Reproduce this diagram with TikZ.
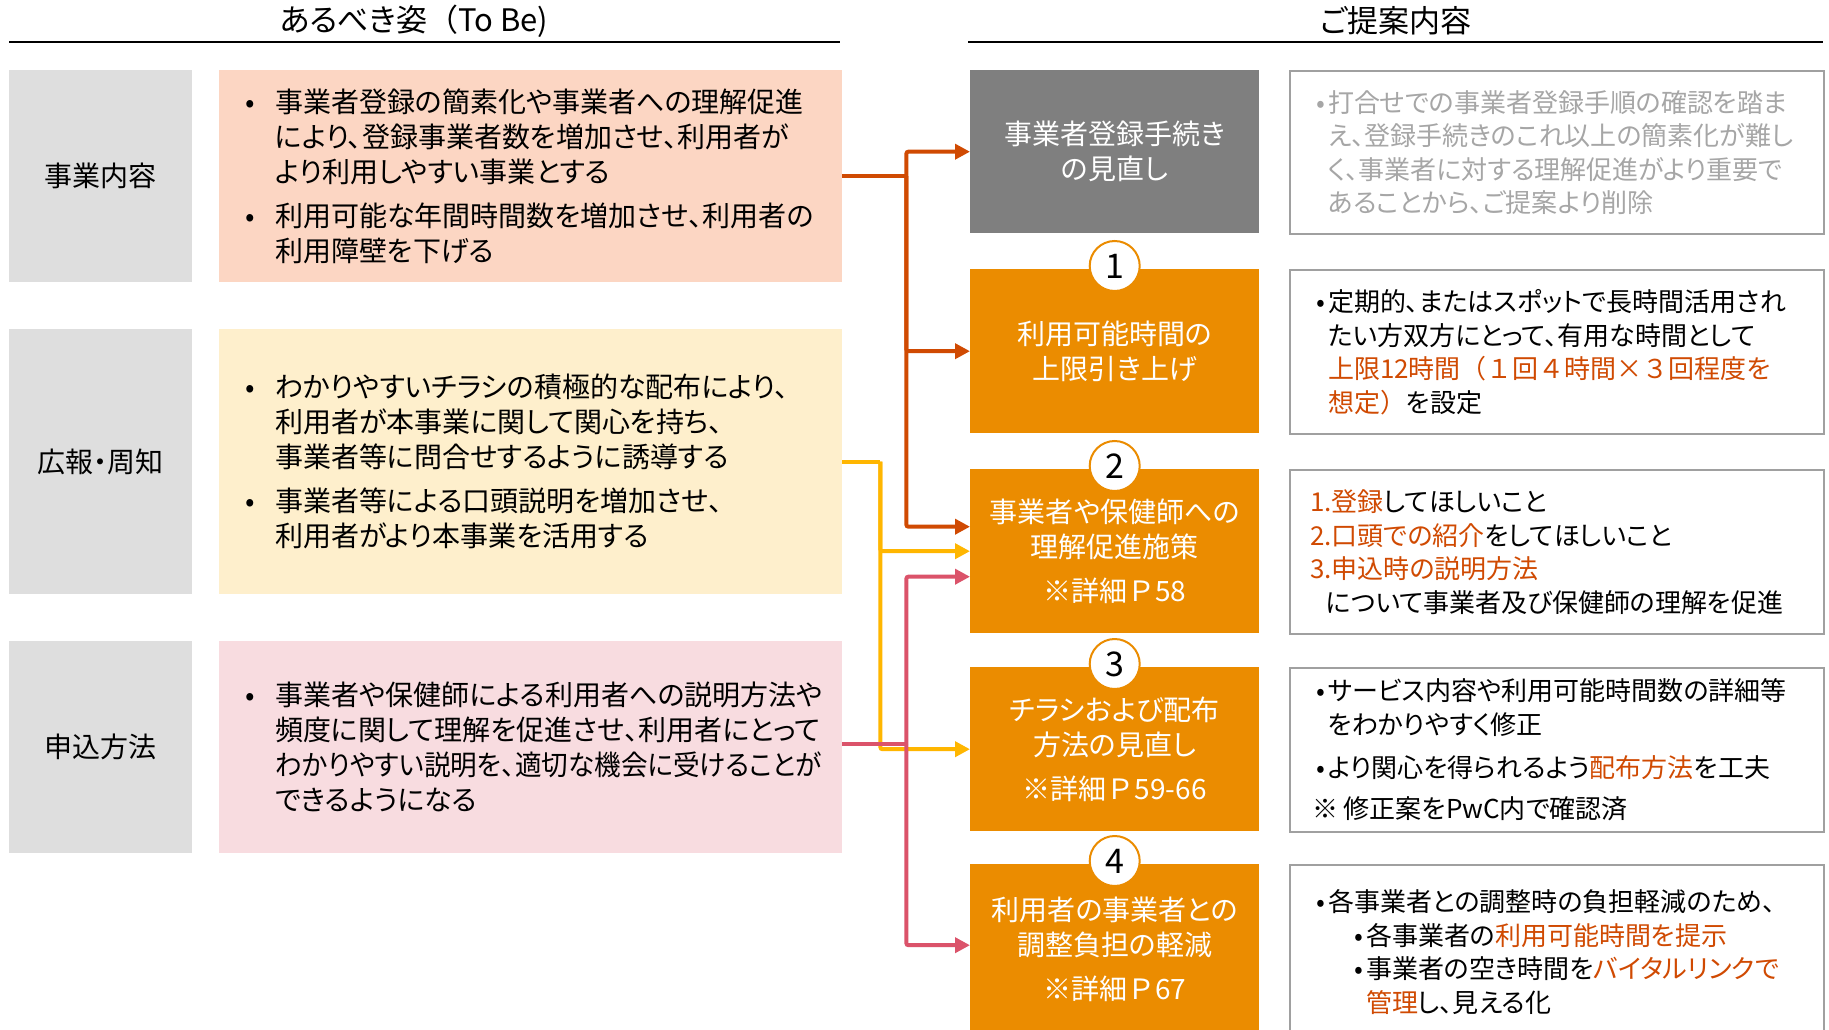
\documentclass[tikz,border=0pt]{standalone}
\usepackage{fontspec}
\usepackage{graphicx}
\setmainfont{Noto Sans CJK JP}[RawFeature=+palt]
\newfontfamily\fullw{Noto Sans CJK JP}
\usetikzlibrary{arrows.meta}
\definecolor{corange}{HTML}{D04A02}
\definecolor{cyellow}{HTML}{FFB600}
\definecolor{cpink}{HTML}{DB536A}
\definecolor{boxorange}{HTML}{EB8C00}
\definecolor{boxgray}{HTML}{7F7F7F}
\definecolor{labgray}{HTML}{DEDEDE}
\definecolor{peach}{HTML}{FCD6C3}
\definecolor{lyellow}{HTML}{FEEFCC}
\definecolor{lpink}{HTML}{F8DCE0}
\definecolor{hl}{HTML}{D04A02}
\definecolor{dgray}{HTML}{A6A6A6}
\definecolor{bordergray}{HTML}{A0A0A0}
\begin{document}
\begin{tikzpicture}[x=1pt,y=-1pt,
 lab/.style={fill=labgray, minimum width=183pt, inner sep=0pt, anchor=north west, font=\fontsize{28}{35}\selectfont},
 cont/.style={anchor=north west, minimum width=623pt, text width=571pt, inner xsep=26pt, inner ysep=0pt, align=left, font=\fontsize{28}{35}\selectfont},
 prop/.style={anchor=north west, fill=boxorange, minimum width=289pt, minimum height=164pt, inner sep=0pt, align=center, text=white, font=\fontsize{28}{35}\selectfont},
 desc/.style={anchor=north west, draw=bordergray, line width=2pt, minimum width=534pt, minimum height=164pt, text width=482pt, inner xsep=26pt, inner ysep=0pt, align=left, font=\fontsize{26}{33.5}\selectfont},
 num/.style={circle, draw=boxorange, line width=2pt, fill=white, minimum size=50pt, inner sep=0pt, font=\fontsize{34}{34}\selectfont},
 conn/.style={line width=4pt, rounded corners=2pt, -{Triangle[length=15pt,width=15pt]}},
 plainline/.style={line width=4pt},
 hdr/.style={font=\fontsize{31}{31}\selectfont},
 rule/.style={line width=2pt}
]
\useasboundingbox[fill=white] (0,0) rectangle (1829,1030);

% headers
\node[hdr] (t1) at (414,21) {あるべき姿{\fullw （}To Be)};
\node[hdr] (t2) at (1396,21) {ご提案内容};
\coordinate (r1a) at (9,42); \coordinate (r1b) at (840,42);
\coordinate (r2a) at (968,42); \coordinate (r2b) at (1823,42);
\draw[rule] (r1a) -- (r1b);
\draw[rule] (r2a) -- (r2b);

% labels
\node[lab, minimum height=212pt] (l1) at (9,70) {事業内容};
\node[lab, minimum height=265pt] (l2) at (9,329) {広報・周知};
\node[lab, minimum height=212pt] (l3) at (9,641) {申込方法};

% contents
\node[cont, fill=peach, minimum height=212pt] (c1) at (219,70) {\makebox[30pt][l]{•}事業者登録の簡素化や事業者への理解促進\\\hspace*{30pt}により、登録事業者数を増加させ、利用者が\\\hspace*{30pt}より利用しやすい事業とする\\[9pt]\makebox[30pt][l]{•}利用可能な年間時間数を増加させ、利用者の\\\hspace*{30pt}利用障壁を下げる};
\node[cont, fill=lyellow, minimum height=265pt] (c2) at (219,329) {\makebox[30pt][l]{•}わかりやすいチラシの積極的な配布により、\\\hspace*{30pt}利用者が本事業に関して関心を持ち、\\\hspace*{30pt}事業者等に問合せするように誘導する\\[9pt]\makebox[30pt][l]{•}事業者等による口頭説明を増加させ、\\\hspace*{30pt}利用者がより本事業を活用する};
\node[cont, fill=lpink, minimum height=212pt] (c3) at (219,641) {\makebox[30pt][l]{•}事業者や保健師による利用者への説明方法や\\\hspace*{30pt}頻度に関して理解を促進させ、利用者にとって\\\hspace*{30pt}\scalebox{0.95}[1]{わかりやすい説明を、適切な機会に受けることが}\\\hspace*{30pt}できるようになる};

% proposals
\node[prop, fill=boxgray, minimum height=163pt] (p0) at (970,70) {事業者登録手続き\\の見直し};
\node[prop] (p1) at (970,269) {利用可能時間の\\上限引き上げ};
\node[prop] (p2) at (970,469) {事業者や保健師への\\理解促進施策\\[9pt]{\fullw ※詳細Ｐ58}};
\node[prop] (p3) at (970,667) {チラシおよび配布\\方法の見直し\\[9pt]{\fullw ※詳細Ｐ59-66}};
\node[prop, minimum height=170pt] (p4) at (970,864) {利用者の事業者との\\調整負担の軽減\\[9pt]{\fullw ※詳細Ｐ67}};

% numbers
\node[num] (n1) at ([yshift=3pt]p1.north) {1};
\node[num] (n2) at ([yshift=3pt]p2.north) {2};
\node[num] (n3) at ([yshift=3pt]p3.north) {3};
\node[num] (n4) at ([yshift=3pt]p4.north) {4};

% descriptions
\node[desc, minimum height=163pt, text=dgray] (d0) at (1289,70) {\makebox[12pt][l]{•}打合せでの事業者登録手順の確認を踏ま\\\hspace*{12pt}え、登録手続きのこれ以上の簡素化が難し\\\hspace*{12pt}く、事業者に対する理解促進がより重要で\\\hspace*{12pt}あることから、ご提案より削除};
\node[desc] (d1) at (1289,269) {\makebox[12pt][l]{•}定期的、またはスポットで長時間活用され\\\hspace*{12pt}たい方双方にとって、有用な時間として\\\hspace*{12pt}\textcolor{hl}{上限12時間{\fullw （１回４時間×３回程度を}}\\\hspace*{12pt}\textcolor{hl}{想定{\fullw ）}}を設定};
\node[desc] (d2) at (1289,469) {\hspace*{-6pt}\textcolor{hl}{1.登録}してほしいこと\\\hspace*{-6pt}\textcolor{hl}{2.口頭での紹介}をしてほしいこと\\\hspace*{-6pt}\textcolor{hl}{3.申込時の説明方法}\\\hspace*{10pt}について事業者及び保健師の理解を促進};
\node[desc] (d3) at (1289,667) {\makebox[12pt][l]{•}サービス内容や利用可能時間数の詳細等\\\hspace*{12pt}をわかりやすく修正\\[9.5pt]\makebox[12pt][l]{•}より関心を得られるよう\textcolor{hl}{配布方法}を工夫\\[8pt]\hspace*{-4pt}※\hspace{6pt}修正案をPwC内で確認済};
\node[desc, minimum height=174pt] (d4) at (1289,864) {\makebox[12pt][l]{•}各事業者との調整時の負担軽減のため、\\\hspace*{38pt}\makebox[12pt][l]{•}各事業者の\textcolor{hl}{利用可能時間を提示}\\\hspace*{38pt}\makebox[12pt][l]{•}事業者の空き時間を\textcolor{hl}{バイタルリンクで}\\\hspace*{50pt}\textcolor{hl}{管理}し、見える化};

% connectors
\coordinate (jo) at ([xshift=64pt]c1.east);
\coordinate (jy) at ([xshift=38pt]c2.east);
\coordinate (jp) at ([xshift=64pt,yshift=3pt]c3.east);

\draw[plainline, corange] (c1.east) -- (jo);
\draw[conn, corange] (jo) |- (p0.west);
\draw[conn, corange] (jo) |- (p1.west);
\draw[conn, corange] (jo) |- ([yshift=24.5pt]p2.west);

\draw[plainline, cyellow] (c2.east) -- (jy);
\draw[conn, cyellow] (jy) |- (p2.west);
\draw[conn, cyellow] (jy) |- (p3.west);

\draw[plainline, cpink] ([yshift=3pt]c3.east) -- (jp);
\draw[conn, cpink] (jp) |- ([yshift=-25.5pt]p2.west);
\draw[conn, cpink] (jp) |- ([yshift=4pt]p4.west);
\end{tikzpicture}
\end{document}
